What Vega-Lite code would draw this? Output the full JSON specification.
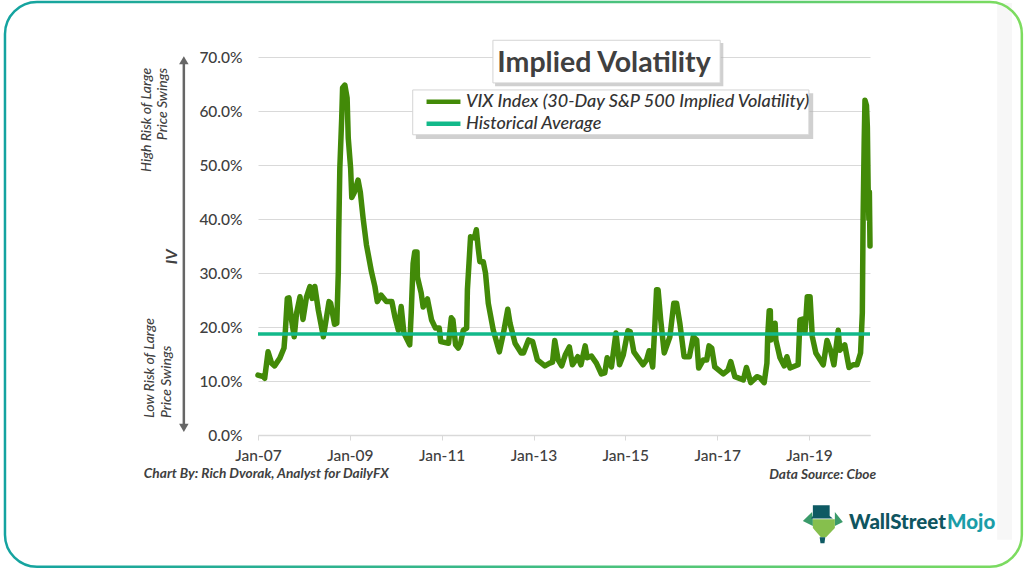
{
  "$schema": "https://vega.github.io/schema/vega-lite/v6.json",
  "width": 612,
  "height": 378,
  "autosize": "none",
  "padding": {"left": 258, "top": 57, "right": 154, "bottom": 134},
  "background": "white",
  "config": {"view": {"stroke": null}, "font": "Lato"},
  "encoding": {
    "x": {
      "field": "date",
      "type": "temporal",
      "title": null,
      "scale": {"type": "utc", "domain": ["2007-01-01", "2020-05-01"]},
      "axis": {
        "format": "%b-%y",
        "values": [
          {"year": 2007, "month": 1, "date": 1, "utc": true},
          {"year": 2009, "month": 1, "date": 1, "utc": true},
          {"year": 2011, "month": 1, "date": 1, "utc": true},
          {"year": 2013, "month": 1, "date": 1, "utc": true},
          {"year": 2015, "month": 1, "date": 1, "utc": true},
          {"year": 2017, "month": 1, "date": 1, "utc": true},
          {"year": 2019, "month": 1, "date": 1, "utc": true}
        ],
        "grid": false,
        "domainColor": "#d9d9d9",
        "domainWidth": 1.5,
        "tickColor": "#d9d9d9",
        "tickSize": 5,
        "labelPadding": 8,
        "labelFont": "Lato",
        "labelFontSize": 15.5,
        "labelFontWeight": 500,
        "labelColor": "#404040",
        "labelFlush": false
      }
    },
    "y": {
      "field": "v",
      "type": "quantitative",
      "title": null,
      "scale": {"domain": [0, 70], "nice": false},
      "axis": {
        "values": [0, 10, 20, 30, 40, 50, 60, 70],
        "labelExpr": "format(datum.value, '.1f') + '%'",
        "domain": false,
        "ticks": false,
        "grid": true,
        "gridColor": "#d9d9d9",
        "gridWidth": 1,
        "labelPadding": 16,
        "labelFont": "Lato",
        "labelFontSize": 15.5,
        "labelFontWeight": 500,
        "labelColor": "#404040"
      }
    }
  },
  "layer": [
    {
      "data": {"values": [{"date": "2023-02-07", "date2": "2023-06-04", "v": 80, "v2": -19.4}]},
      "mark": {"type": "rect", "fill": "#f7f7f7"},
      "encoding": {"x2": {"field": "date2"}, "y2": {"field": "v2"}}
    },
    {
      "data": {"values": [{"date": "2001-06-28", "date2": "2023-08-22", "v": 80.2, "v2": -24.4}]},
      "mark": {
        "type": "rect",
        "fillOpacity": 0,
        "strokeWidth": 2.5,
        "cornerRadius": 32,
        "stroke": {
          "gradient": "linear", "x1": 0, "y1": 0, "x2": 1, "y2": 0,
          "stops": [{"offset": 0, "color": "#14a3a0"}, {"offset": 0.5, "color": "#3dbb85"}, {"offset": 1, "color": "#7ddc5f"}]
        }
      },
      "encoding": {"x2": {"field": "date2"}, "y2": {"field": "v2"}}
    },
    {
      "data": {"values": [
        {"date": "2012-03-01", "date2": "2017-02-19", "v": 72.6, "v2": 64.6},
        {"date": "2010-06-10", "date2": "2019-02-04", "v": 63.3, "v2": 54.8}
      ]},
      "mark": {"type": "rect", "fill": "#b0b0b0", "opacity": 0.6},
      "encoding": {"x2": {"field": "date2"}, "y2": {"field": "v2"}}
    },
    {
      "data": {"values": [
        {"date": "2012-02-13", "date2": "2017-01-25", "v": 73.1, "v2": 65.2},
        {"date": "2010-05-16", "date2": "2019-01-01", "v": 63.9, "v2": 55.6}
      ]},
      "mark": {"type": "rect", "fill": "white", "stroke": "#d4d4d4", "strokeWidth": 1},
      "encoding": {"x2": {"field": "date2"}, "y2": {"field": "v2"}}
    },
    {
      "data": {"values": [{"date": "2014-07-16", "v": 68.8, "label": "Implied Volatility"}]},
      "mark": {"type": "text", "font": "Lato", "fontSize": 28.5, "fontWeight": 700, "color": "#404040", "align": "center", "baseline": "middle"},
      "encoding": {"text": {"field": "label"}}
    },
    {
      "data": {"values": [{"date": "2005-05-21", "v": 69.4, "v2": 1.1}]},
      "mark": {"type": "rule", "color": "#666666", "strokeWidth": 2.5},
      "encoding": {"y2": {"field": "v2"}}
    },
    {
      "data": {"values": [{"date": "2005-05-21", "v": 69.4}]},
      "mark": {"type": "point", "shape": "triangle-up", "filled": true, "size": 90, "color": "#666666", "opacity": 1}
    },
    {
      "data": {"values": [{"date": "2005-05-21", "v": 1.3}]},
      "mark": {"type": "point", "shape": "triangle-down", "filled": true, "size": 90, "color": "#666666", "opacity": 1}
    },
    {
      "data": {"values": [
        {"date": "2004-08-01", "v": 68, "label": "High Risk of Large"},
        {"date": "2004-12-07", "v": 68, "label": "Price Swings"}
      ]},
      "mark": {"type": "text", "angle": 270, "align": "right", "baseline": "middle", "font": "Lato", "fontSize": 14, "fontStyle": "italic", "fontWeight": 500, "color": "#404040"},
      "encoding": {"text": {"field": "label"}}
    },
    {
      "data": {"values": [
        {"date": "2004-08-25", "v": 3.15, "label": "Low Risk of Large"},
        {"date": "2005-01-07", "v": 3.15, "label": "Price Swings"}
      ]},
      "mark": {"type": "text", "angle": 270, "align": "left", "baseline": "middle", "font": "Lato", "fontSize": 14, "fontStyle": "italic", "fontWeight": 500, "color": "#404040"},
      "encoding": {"text": {"field": "label"}}
    },
    {
      "data": {"values": [{"date": "2005-02-16", "v": 33, "label": "IV"}]},
      "mark": {"type": "text", "angle": 270, "align": "center", "baseline": "middle", "font": "Lato", "fontSize": 16, "fontStyle": "italic", "fontWeight": 700, "color": "#404040"},
      "encoding": {"text": {"field": "label"}}
    },
    {
      "data": {"values": [{"date": "2004-07-07", "v": -7.2, "label": "Chart By: Rich Dvorak, Analyst for DailyFX"}]},
      "mark": {"type": "text", "align": "left", "baseline": "middle", "font": "Lato", "fontSize": 13.7, "fontStyle": "italic", "fontWeight": 700, "color": "#404040"},
      "encoding": {"text": {"field": "label"}}
    },
    {
      "data": {"values": [{"date": "2020-06-19", "v": -7.4, "label": "Data Source: Cboe"}]},
      "mark": {"type": "text", "align": "right", "baseline": "middle", "font": "Lato", "fontSize": 13.7, "fontStyle": "italic", "fontWeight": 700, "color": "#404040"},
      "encoding": {"text": {"field": "label"}}
    },
    {
      "data": {"values": [{"date": "2019-04-22", "v": -16.5}]},
      "layer": [
        {"mark": {"type": "point", "filled": true, "opacity": 1, "size": 6400, "color": "#3a9a6a", "shape": "M-0.5,-0.08 L-0.27,-0.3 L-0.25,-0.1 L-0.25,0.05 Z M0.3,-0.3 L0.5,-0.05 L0.3,0.05 L0.3,-0.1 Z"}},
        {"mark": {"type": "point", "filled": true, "opacity": 1, "size": 6400, "color": "#86bf4d", "shape": "M-0.25,-0.12 L0.3,-0.12 L0.3,0.1 L0.08,0.33 L-0.05,0.33 L-0.25,0.1 Z"}},
        {"mark": {"type": "point", "filled": true, "opacity": 1, "size": 6400, "color": "#0e5a63", "shape": "M-0.25,-0.47 L0.17,-0.47 L0.17,-0.2 L0.25,-0.14 L-0.3,-0.14 L-0.25,-0.2 Z M-0.08,0.33 L0.06,0.33 L0.04,0.48 L-0.06,0.48 Z"}}
      ]
    },
    {
      "data": {"values": [{"date": "2019-11-16", "v": -16.3, "label": "WallStreet"}]},
      "mark": {"type": "text", "align": "left", "baseline": "middle", "font": "Lato", "fontSize": 20.5, "fontWeight": 900, "color": "#0f5560"},
      "encoding": {"text": {"field": "label"}}
    },
    {
      "data": {"values": [{"date": "2022-01-04", "v": -16.3, "label": "Mojo"}]},
      "mark": {"type": "text", "align": "left", "baseline": "middle", "font": "Lato", "fontSize": 20.5, "fontWeight": 900, "color": "#1a9da8"},
      "encoding": {"text": {"field": "label"}}
    },
    {
      "data": {"values": [
        {"date":"2007-01-01","v":11.1},{"date":"2007-02-12","v":10.8},{"date":"2007-02-23","v":10.5},{"date":"2007-03-22","v":15.4},{"date":"2007-04-19","v":13.3},{"date":"2007-05-13","v":12.8},{"date":"2007-06-23","v":14.2},{"date":"2007-07-27","v":16.1},{"date":"2007-08-07","v":19.4},{"date":"2007-08-22","v":25.3},{"date":"2007-09-04","v":25.4},{"date":"2007-09-25","v":21.3},{"date":"2007-10-16","v":18.2},{"date":"2007-11-04","v":22.6},{"date":"2007-12-01","v":25.6},{"date":"2007-12-25","v":21.4},
        {"date":"2008-01-22","v":25.6},{"date":"2008-02-18","v":27.5},{"date":"2008-03-07","v":25.3},{"date":"2008-03-28","v":27.5},{"date":"2008-04-25","v":23.1},{"date":"2008-06-04","v":18.2},{"date":"2008-07-19","v":24.7},{"date":"2008-08-01","v":24.4},{"date":"2008-09-01","v":20.5},{"date":"2008-09-19","v":20.7},{"date":"2008-10-01","v":30.2},{"date":"2008-10-04","v":37},{"date":"2008-10-13","v":49.4},{"date":"2008-10-28","v":58.7},{"date":"2008-11-04","v":64.3},{"date":"2008-11-22","v":64.8},{"date":"2008-12-10","v":62.4},{"date":"2008-12-19","v":55},
        {"date":"2009-01-07","v":49.4},{"date":"2009-01-16","v":44},{"date":"2009-02-07","v":45},{"date":"2009-03-07","v":47.2},{"date":"2009-03-25","v":45},{"date":"2009-04-16","v":40.2},{"date":"2009-05-13","v":35.2},{"date":"2009-06-22","v":30.2},{"date":"2009-07-19","v":27.5},{"date":"2009-08-07","v":24.7},{"date":"2009-09-07","v":25.9},{"date":"2009-10-19","v":24.7},{"date":"2009-12-01","v":24.7},{"date":"2009-12-25","v":21.9},
        {"date":"2010-01-22","v":19.4},{"date":"2010-02-13","v":23.8},{"date":"2010-03-07","v":18.9},{"date":"2010-04-22","v":16.7},{"date":"2010-05-04","v":22.6},{"date":"2010-05-19","v":31.8},{"date":"2010-06-01","v":33.9},{"date":"2010-06-19","v":33.9},{"date":"2010-06-22","v":29.3},{"date":"2010-07-22","v":26.3},{"date":"2010-08-07","v":23.7},{"date":"2010-09-10","v":25.2},{"date":"2010-10-13","v":21.3},{"date":"2010-11-13","v":19.8},{"date":"2010-12-13","v":19.8},{"date":"2010-12-25","v":17.3},
        {"date":"2011-02-25","v":17},{"date":"2011-03-19","v":21.7},{"date":"2011-04-01","v":21.3},{"date":"2011-04-22","v":16.7},{"date":"2011-05-13","v":16.1},{"date":"2011-06-01","v":17},{"date":"2011-06-22","v":19.4},{"date":"2011-07-19","v":19.8},{"date":"2011-07-25","v":26.9},{"date":"2011-08-13","v":34.3},{"date":"2011-08-19","v":36.7},{"date":"2011-09-19","v":36.5},{"date":"2011-10-04","v":38},{"date":"2011-10-19","v":34.6},{"date":"2011-11-01","v":32.1},{"date":"2011-11-28","v":32.1},{"date":"2011-12-16","v":30},
        {"date":"2012-01-07","v":24.4},{"date":"2012-02-16","v":19.4},{"date":"2012-04-04","v":15.4},{"date":"2012-05-07","v":18.9},{"date":"2012-06-10","v":23.3},{"date":"2012-06-28","v":20.7},{"date":"2012-08-07","v":17},{"date":"2012-09-25","v":15.2},{"date":"2012-10-13","v":15.2},{"date":"2012-11-22","v":17.6},{"date":"2012-12-25","v":17.3},
        {"date":"2013-02-01","v":13.9},{"date":"2013-04-01","v":12.8},{"date":"2013-05-10","v":13.3},{"date":"2013-06-01","v":13.5},{"date":"2013-06-19","v":17.5},{"date":"2013-07-16","v":13.9},{"date":"2013-08-13","v":12.8},{"date":"2013-09-10","v":14.8},{"date":"2013-10-13","v":16.3},{"date":"2013-11-07","v":13},{"date":"2013-12-19","v":14.5},
        {"date":"2014-01-13","v":13},{"date":"2014-02-16","v":16.5},{"date":"2014-03-04","v":14.3},{"date":"2014-04-07","v":14.6},{"date":"2014-05-16","v":13.3},{"date":"2014-06-25","v":11.3},{"date":"2014-07-22","v":11.5},{"date":"2014-08-10","v":14.3},{"date":"2014-09-13","v":12.6},{"date":"2014-10-19","v":18.9},{"date":"2014-11-16","v":13},{"date":"2014-12-16","v":14.8},
        {"date":"2015-01-22","v":19.3},{"date":"2015-02-10","v":19.1},{"date":"2015-03-10","v":15.4},{"date":"2015-04-13","v":14.3},{"date":"2015-05-22","v":13},{"date":"2015-06-19","v":13.9},{"date":"2015-07-10","v":15.6},{"date":"2015-08-07","v":12.6},{"date":"2015-08-25","v":20.7},{"date":"2015-09-07","v":26.9},{"date":"2015-09-19","v":26.9},{"date":"2015-10-10","v":21.3},{"date":"2015-11-07","v":15.2},{"date":"2015-12-22","v":18.2},
        {"date":"2016-01-22","v":24.4},{"date":"2016-02-13","v":24.4},{"date":"2016-03-10","v":20.7},{"date":"2016-04-13","v":14.5},{"date":"2016-05-25","v":14.5},{"date":"2016-06-25","v":18.2},{"date":"2016-07-22","v":17.6},{"date":"2016-08-07","v":12.4},{"date":"2016-09-13","v":13.9},{"date":"2016-10-10","v":13.9},{"date":"2016-10-28","v":16.5},{"date":"2016-11-19","v":16.1},{"date":"2016-12-13","v":12.6},
        {"date":"2017-02-19","v":11.3},{"date":"2017-03-28","v":12},{"date":"2017-04-19","v":13.6},{"date":"2017-05-22","v":10.8},{"date":"2017-07-28","v":10.2},{"date":"2017-08-22","v":12.5},{"date":"2017-09-25","v":9.7},{"date":"2017-11-13","v":10.8},{"date":"2017-12-07","v":10.6},
        {"date":"2018-01-10","v":9.7},{"date":"2018-02-01","v":13.3},{"date":"2018-02-07","v":18.2},{"date":"2018-02-19","v":23},{"date":"2018-02-28","v":23},{"date":"2018-03-04","v":17.6},{"date":"2018-04-07","v":20.7},{"date":"2018-04-13","v":17.6},{"date":"2018-05-16","v":14.3},{"date":"2018-06-19","v":12.8},{"date":"2018-07-10","v":14.5},{"date":"2018-08-04","v":12.4},{"date":"2018-10-07","v":13},{"date":"2018-10-22","v":21.3},{"date":"2018-11-19","v":21.5},{"date":"2018-12-01","v":19.1},{"date":"2018-12-19","v":25.6},
        {"date":"2019-01-10","v":25.6},{"date":"2019-01-28","v":18.2},{"date":"2019-02-25","v":15.2},{"date":"2019-04-25","v":13},{"date":"2019-05-25","v":17.5},{"date":"2019-06-22","v":15.7},{"date":"2019-07-19","v":13},{"date":"2019-08-22","v":19.4},{"date":"2019-09-04","v":15.7},{"date":"2019-10-13","v":16.7},{"date":"2019-11-16","v":12.5},{"date":"2019-12-19","v":13},
        {"date":"2020-01-19","v":13},{"date":"2020-02-16","v":15.2},{"date":"2020-03-01","v":22.6},{"date":"2020-03-07","v":39.8},{"date":"2020-03-16","v":54.6},{"date":"2020-03-22","v":62},{"date":"2020-04-03","v":61},{"date":"2020-04-10","v":57},{"date":"2020-04-16","v":46},{"date":"2020-04-22","v":40},{"date":"2020-04-26","v":45},{"date":"2020-05-01","v":35}
      ]},
      "mark": {"type": "line", "strokeWidth": 5.5, "strokeCap": "round", "strokeJoin": "round"},
      "encoding": {
        "color": {
          "datum": "VIX Index (30-Day S&P 500 Implied Volatility)",
          "type": "nominal",
          "scale": {
            "domain": ["VIX Index (30-Day S&P 500 Implied Volatility)", "Historical Average"],
            "range": ["#428a08", "#12b98a"]
          },
          "legend": {
            "title": null,
            "orient": "none",
            "legendX": 166,
            "legendY": 34,
            "padding": 0,
            "offset": 0,
            "rowPadding": 0,
            "clipHeight": 21.5,
            "symbolType": "stroke",
            "symbolSize": 1150,
            "symbolStrokeWidth": 4.5,
            "labelFont": "Lato",
            "labelFontSize": 18,
            "labelFontStyle": "italic",
            "labelFontWeight": 500,
            "labelColor": "#333333",
            "labelOffset": 3,
            "labelLimit": 400
          }
        }
      }
    },
    {
      "data": {"values": [
        {"date": "2007-01-01", "v": 18.7},
        {"date": "2020-05-01", "v": 18.7}
      ]},
      "mark": {"type": "line", "strokeWidth": 3.5},
      "encoding": {"color": {"datum": "Historical Average", "type": "nominal"}}
    }
  ]
}
